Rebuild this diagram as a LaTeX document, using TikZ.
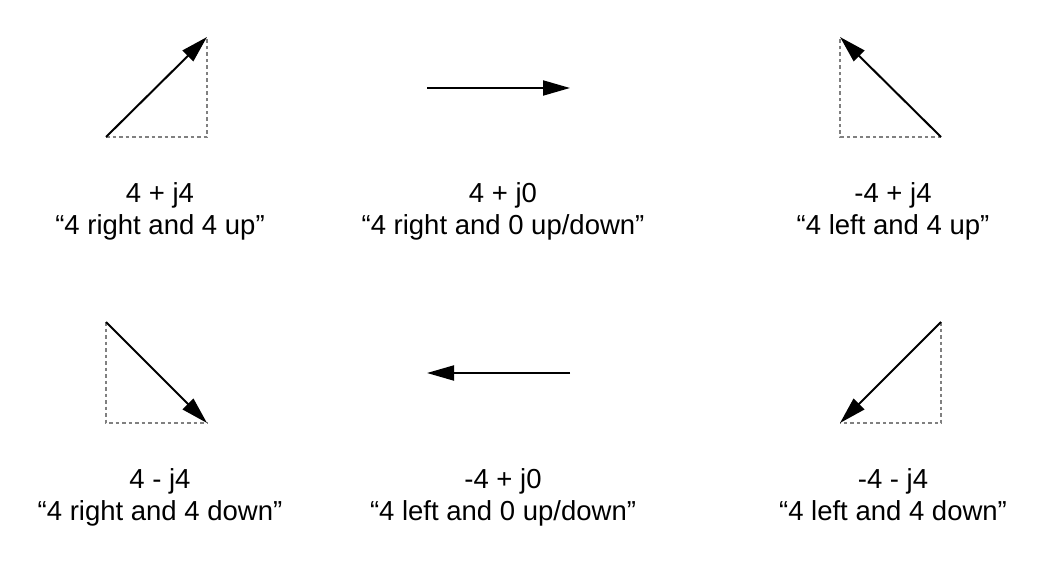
\documentclass[tikz,border=0pt]{standalone}
\usepackage{fontspec}
\setmainfont{Liberation Sans}
\usepackage{tikz}
\usetikzlibrary{arrows.meta}
\tikzstyle{vec} = [line width=2pt, -{Triangle[length=27pt,width=15pt]}]
\tikzstyle{leg} = [gray, line width=2.5pt, dash pattern=on 3.5pt off 3pt]
\tikzstyle{lbl} = [anchor=base, inner sep=0pt, font=\fontsize{27.5}{33}\selectfont]
\begin{document}
\begin{tikzpicture}[x=1pt,y=-1pt]
  \useasboundingbox (0,0) rectangle (1057,575);
  % top row
  \coordinate (o1) at (106,137);
  \coordinate (t1) at (207,37);
  \coordinate (c1) at (207,137);
  \coordinate (o2) at (427,88);
  \coordinate (t2) at (570,88);
  \coordinate (o3) at (941,137);
  \coordinate (t3) at (840,37);
  \coordinate (c3) at (840,137);
  % bottom row
  \coordinate (o4) at (106,322);
  \coordinate (t4) at (207,423);
  \coordinate (c4) at (106,423);
  \coordinate (o5) at (570,373);
  \coordinate (t5) at (427,373);
  \coordinate (o6) at (941,322);
  \coordinate (t6) at (840,423);
  \coordinate (c6) at (941,423);
  \draw[leg] (o1) -- (c1) -- (t1);
  \draw[leg] (o3) -- (c3) -- (t3);
  \draw[leg] (o4) -- (c4) -- (t4);
  \draw[leg] (o6) -- (c6) -- (t6);
  \draw[vec] (o1) -- (t1);
  \draw[vec] (o2) -- (t2);
  \draw[vec] (o3) -- (t3);
  \draw[vec] (o4) -- (t4);
  \draw[vec] (o5) -- (t5);
  \draw[vec] (o6) -- (t6);
  \node[lbl] (n1) at (160,202) {4 + j4};
  \node[lbl] (d1) at (160,234) {“4 right and 4 up”};
  \node[lbl] (n2) at (503,202) {4 + j0};
  \node[lbl] (d2) at (503,234) {“4 right and 0 up/down”};
  \node[lbl] (n3) at (893,202) {-4 + j4};
  \node[lbl] (d3) at (893,234) {“4 left and 4 up”};
  \node[lbl] (n4) at (160,488) {4 - j4};
  \node[lbl] (d4) at (160,520) {“4 right and 4 down”};
  \node[lbl] (n5) at (503,488) {-4 + j0};
  \node[lbl] (d5) at (503,520) {“4 left and 0 up/down”};
  \node[lbl] (n6) at (893,488) {-4 - j4};
  \node[lbl] (d6) at (893,520) {“4 left and 4 down”};
\end{tikzpicture}
\end{document}
